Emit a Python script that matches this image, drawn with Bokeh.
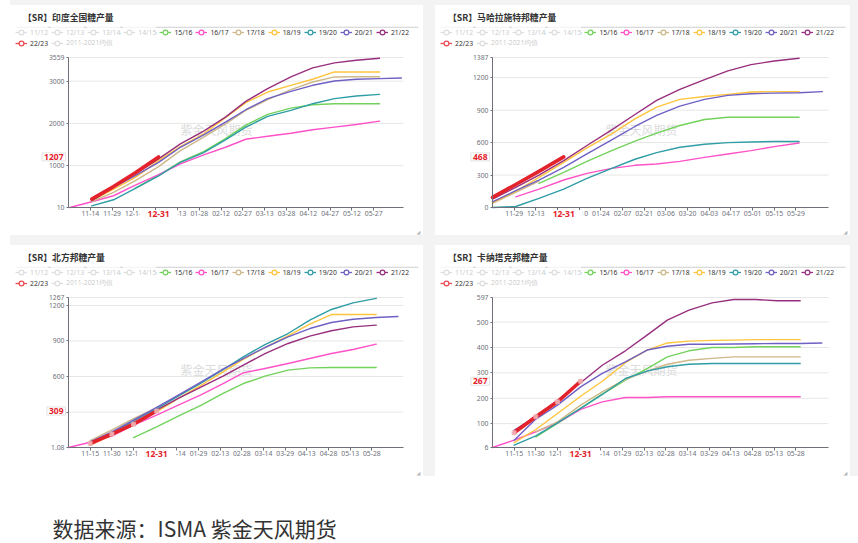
from datetime import date

from bokeh.embed import file_html
from bokeh.layouts import column, row
from bokeh.models import (BoxAnnotation, FixedTicker, Label, Legend,
                          LegendItem, Range1d, Spacer)
from bokeh.plotting import figure
from bokeh.resources import INLINE

# ---------------------------------------------------------------- seasons
SEASONS = ["11/12", "12/13", "13/14", "14/15", "15/16", "16/17", "17/18",
           "18/19", "19/20", "20/21", "21/22", "22/23", "2011-2021均值"]
ACTIVE = ["15/16", "16/17", "17/18", "18/19", "19/20", "20/21", "21/22", "22/23"]
COLORS = {
    "11/12": "#8a8a8a", "12/13": "#8a8a8a", "13/14": "#8a8a8a", "14/15": "#8a8a8a",
    "15/16": "#73d25c", "16/17": "#ff52c8", "17/18": "#cdb88a", "18/19": "#ffc43d",
    "19/20": "#2f9da5", "20/21": "#6f60c4", "21/22": "#982f7d", "22/23": "#e3222b",
    "2011-2021均值": "#8a8a8a",
}
KEY_COLORS = dict(COLORS, **{"22/23": "#ec4b55"})

# ISMA fortnightly report dates (season running Oct -> Jun)
REPORT_DATES = ["10-31", "11-15", "11-30", "12-15", "12-31", "01-15", "01-31",
                "02-15", "02-29", "03-15", "03-31", "04-15", "04-30", "05-15",
                "05-31", "06-15"]

# ---------------------------------------------------------------- India
IN_1516 = ("12-15", [470, 770, 1090, 1330, 1640, 1960, 2212, 2362, 2442, 2466, 2466, 2466])
IN_1617 = ("10-31", [10, 145, 288, 542, 787, 1041, 1255, 1435, 1625, 1697, 1768, 1849, 1911, 1975, 2053])
IN_1718 = ("11-15", [150, 366, 644, 977, 1357, 1673, 1990, 2307, 2561, 2799, 2980, 3099, 3105, 3105])
IN_1819 = ("11-15", [170, 447, 723, 1119, 1452, 1754, 2134, 2490, 2742, 2901, 3044, 3217, 3217, 3217])
IN_1920 = ("11-15", [50, 193, 461, 760, 1080, 1310, 1610, 1910, 2165, 2307, 2466, 2585, 2647, 2687])
IN_2021 = ("11-15", [170, 485, 763, 1079, 1435, 1730, 2029, 2323, 2585, 2759, 2901, 3004, 3044, 3060, 3075])
IN_2122 = ("11-15", [175, 500, 803, 1159, 1516, 1815, 2148, 2521, 2823, 3099, 3312, 3431, 3495, 3540])
IN_2223 = ("11-15", [209, 505, 830, 1207])
IN_XTICKS = ["11-14", "11-29", "12-14", "12-29", "01-13", "01-28", "02-12",
             "02-27", "03-13", "03-28", "04-12", "04-27", "05-12", "05-27"]
IN_YTICKS = [10, 1000, 2000, 3000, 3559]

# ---------------------------------------------------------------- Maharashtra
MH_1516 = ("12-15", [223, 325, 427, 526, 613, 687, 758, 814, 835, 835, 835, 835])
MH_1617 = ("11-30", [99, 170, 254, 316, 362, 390, 402, 427, 464, 495, 526, 563, 597])
MH_1718 = ("11-15", [38, 140, 245])
MH_1819 = ("11-15", [46, 149, 278, 418, 551, 681, 820, 928, 1000, 1027, 1046, 1068, 1071, 1071])
MH_1920 = ("11-15", [0, 9, 84, 170, 269, 362, 446, 507, 557, 585, 600, 606, 610, 610])
MH_2021 = ("11-15", [53, 155, 254, 371, 495, 625, 749, 851, 938, 1000, 1037, 1052, 1058, 1061, 1071])
MH_2122 = ("11-15", [77, 186, 300, 433, 573, 718, 860, 990, 1092, 1182, 1263, 1321, 1355, 1380])
MH_2223 = ("11-15", [93, 213, 334, 468])
MH_XTICKS = ["11-29", "12-13", "12-27", "01-10", "01-24", "02-07", "02-21",
             "03-06", "03-20", "04-03", "04-17", "05-01", "05-15", "05-29"]
MH_YTICKS = [0, 300, 600, 900, 1200, 1387]

# ---------------------------------------------------------------- Uttar Pradesh
UP_1516 = ("12-15", [85, 175, 266, 358, 457, 541, 603, 654, 673, 676, 676, 676])
UP_1617 = ("10-31", [1.08, 45, 98, 190, 274, 358, 448, 541, 631, 668, 710, 752, 794, 828, 873])
UP_1718 = ("11-15", [60, 150, 245, 335])
UP_1819 = ("11-15", [21, 105, 204, 302, 415, 527, 640, 744, 845, 943, 1042, 1123, 1123, 1123])
UP_1920 = ("11-15", [29, 119, 226, 330, 434, 547, 659, 766, 870, 963, 1076, 1166, 1222, 1260])
UP_2021 = ("11-15", [49, 133, 232, 339, 443, 555, 662, 752, 845, 935, 1005, 1056, 1084, 1098, 1107])
UP_2122 = ("11-15", [45, 119, 209, 316, 415, 513, 603, 696, 794, 879, 941, 986, 1019, 1034])
UP_2223 = ("11-15", [35, 114, 198, 309])
UP_XTICKS = ["11-15", "11-30", "12-15", "12-30", "01-14", "01-29", "02-13",
             "02-28", "03-14", "03-29", "04-13", "04-28", "05-13", "05-28"]
UP_YTICKS = [1.08, 300, 600, 900, 1200, 1267]

# ---------------------------------------------------------------- Karnataka
KA_1516 = ("11-30", [48, 101, 160, 216, 271, 317, 363, 387, 400, 400, 403, 403, 403])
KA_1617 = ("10-31", [6, 35, 68, 103, 156, 186, 203, 203, 206, 206, 206, 206, 206, 206, 206])
KA_1718 = ("11-30", [68, 107, 173, 225, 274, 307, 334, 350, 357, 363, 363, 363, 363])
KA_1819 = ("11-15", [25, 77, 140, 208, 267, 340, 390, 418, 425, 428, 429, 431, 431, 431])
KA_1920 = ("11-15", [15, 52, 103, 160, 215, 278, 307, 324, 334, 337, 337, 337, 337, 337])
KA_2021 = ("11-15", [35, 118, 173, 245, 298, 343, 390, 405, 413, 413, 414, 415, 416, 416, 418])
KA_2122 = ("11-15", [74, 129, 192, 261, 330, 387, 449, 508, 547, 576, 589, 589, 584, 584])
KA_2223 = ("11-15", [64, 127, 186, 267])
KA_XTICKS = UP_XTICKS
KA_YTICKS = [6, 100, 200, 300, 400, 500, 597]

TEXT_FONT = "Noto Sans CJK SC"
NUM_FONT = "Noto Sans"
AXIS_GREY = "#6e7079"
PAGE_GREY = "#f3f3f3"
NAN = float("nan")


def day(md):
    """Day number of a 'MM-DD' date within the Oct-Jun crushing season."""
    m, d = map(int, md.split("-"))
    y = 2019 if m >= 9 else 2020
    return (date(y, m, d) - date(2019, 10, 1)).days


def fmt(v):
    return f"{v:g}"


def make_panel(title, w, h, margins, x0, span, xticks, yticks, series,
               current, cur_date="12-31", red_markers=False):
    """One card: the frame fills the card, the axes sit at fixed data
    locations so that header, legend and value tags can share the canvas."""
    ml, mr, mt, mb = margins
    fw, fh = w - ml - mr, h - mt - mb
    d0, d1 = day(x0), day(x0) + span
    y0, y1 = yticks[0], yticks[-1]
    kx, ky = span / fw, (y1 - y0) / fh
    p = figure(width=w, height=h,
               x_range=Range1d(d0 - ml * kx, d1 + mr * kx),
               y_range=Range1d(y0 - mb * ky, y1 + mt * ky),
               output_backend="svg", toolbar_location=None, min_border=0,
               outline_line_color=None, background_fill_color="white",
               border_fill_color="white")

    def sy(cy):  # card pixel row -> screen y measured from the bottom
        return h - cy

    # axes pinned to the plotting area
    xa, ya = p.xaxis[0], p.yaxis[0]
    xa.fixed_location = y0
    ya.fixed_location = d0
    xa.bounds = (d0, d1)
    ya.bounds = (y0, y1)
    xa.ticker = FixedTicker(ticks=[day(d) for d in xticks])
    xa.major_label_overrides = {day(d): d for d in xticks}
    ya.ticker = FixedTicker(ticks=yticks)
    ya.major_label_overrides = {t: fmt(t) for t in yticks}
    for ax in (xa, ya):
        ax.axis_line_color = AXIS_GREY
        ax.major_tick_line_color = AXIS_GREY
        ax.minor_tick_line_color = None
        ax.major_tick_in = 0
        ax.major_label_text_color = AXIS_GREY
        ax.major_label_text_font = NUM_FONT
        ax.major_label_text_font_size = "6.8px"
    xa.major_tick_out = 3
    xa.major_label_standoff = 0
    ya.major_tick_out = 2
    ya.major_label_standoff = 2
    p.grid.visible = False

    # horizontal guide lines across the plotting area
    gy = [t for t in yticks[1:]]
    p.segment(x0=[d0] * len(gy), x1=[d1] * len(gy), y0=gy, y1=gy,
              line_color="#e6e6e6", line_width=1, level="underlay")

    # watermark
    p.add_layout(Label(x=206, y=sy(124), x_units="screen", y_units="screen",
                       text="紫金天风期货", text_align="center",
                       text_baseline="middle", text_font=TEXT_FONT,
                       text_font_size="12px", text_color="#dcdcdc",
                       level="underlay"))

    # season lines
    for name in ACTIVE:
        if name not in series:
            continue
        start, vals = series[name]
        i = REPORT_DATES.index(start)
        xs = [day(d) for d in REPORT_DATES[i:i + len(vals)]]
        lw = 3.6 if name == "22/23" else 1.4
        p.line(xs, vals, line_color=COLORS[name], line_width=lw,
               line_join="round", line_cap="round")
        if red_markers and name == "22/23":
            p.scatter(xs, vals, size=4, marker="square", fill_color="white",
                      fill_alpha=0.6, line_color="#e8a3aa", line_width=0.8)

    # legend keys: a thin line with a hollow ring per season (no plotted points)
    keys = {}
    for name in SEASONS:
        col = KEY_COLORS[name]
        ln = p.line([NAN], [NAN], line_color=col, line_width=1.3)
        dot = p.scatter([NAN], [NAN], marker="circle", size=5, fill_color="white",
                        line_color=col, line_width=1.2)
        if name not in ACTIVE:
            ln.visible = False
            dot.visible = False
        keys[name] = [ln, dot]

    # title and its rule
    p.add_layout(Label(x=12.5, y=sy(12.3), x_units="screen", y_units="screen",
                       text=title, text_align="left", text_baseline="middle",
                       text_font=TEXT_FONT, text_font_style="bold",
                       text_font_size="8.8px", text_color="#333333"))
    p.add_layout(BoxAnnotation(left=5, right=w - 5, top=sy(21.2),
                               bottom=sy(22.2), left_units="screen",
                               right_units="screen", top_units="screen",
                               bottom_units="screen", fill_color="#cfcfcf",
                               fill_alpha=1, line_alpha=0))

    # legend in two rows
    for names, cy in ((SEASONS[:11], 27.3), (SEASONS[11:], 38.3)):
        lg = Legend(items=[LegendItem(label=n, renderers=keys[n]) for n in names],
                    location=(5, sy(cy + 6)), orientation="horizontal",
                    click_policy="hide", padding=0, margin=0, spacing=3,
                    glyph_width=12, glyph_height=12, label_standoff=3,
                    label_width=5, label_height=10,
                    label_text_font=NUM_FONT, label_text_font_size="6.8px",
                    label_text_color="#333333", background_fill_alpha=0,
                    border_line_alpha=0, inactive_fill_color="white",
                    inactive_fill_alpha=0.72)
        p.add_layout(lg)

    # latest-value tags on the axes
    p.add_layout(Label(x=ml - 3, y=current, x_units="screen", y_units="data",
                       text=fmt(current), text_align="right",
                       text_baseline="middle", text_font=NUM_FONT,
                       text_font_style="bold", text_font_size="8.5px",
                       text_color="#e3222b", background_fill_color="white",
                       border_line_color="#e2e2e2", padding=(2, 1)))
    p.add_layout(Label(x=day(cur_date), y=mb - 6.5, x_units="data", y_units="screen",
                       text=cur_date, text_align="center",
                       text_baseline="middle", text_font=NUM_FONT,
                       text_font_style="bold", text_font_size="8.5px",
                       text_color="#e3222b", background_fill_color="white",
                       padding=(8, 1)))

    # resize grip in the card corner
    p.add_layout(Label(x=w - 5, y=sy(h - 4), x_units="screen", y_units="screen",
                       text="◢", text_align="center", text_baseline="middle",
                       text_font="DejaVu Sans", text_font_size="5px",
                       text_color="#b5b5b5"))
    return p


def pack(*pairs):
    return {name: data for name, data in pairs}


p1 = make_panel("【SR】印度全国糖产量", 413, 230, (58, 20, 52, 28), "10-30", 230.5,
                IN_XTICKS, IN_YTICKS,
                pack(("15/16", IN_1516), ("16/17", IN_1617), ("17/18", IN_1718),
                     ("18/19", IN_1819), ("19/20", IN_1920), ("20/21", IN_2021),
                     ("21/22", IN_2122), ("22/23", IN_2223)), 1207)
p2 = make_panel("【SR】马哈拉施特邦糖产量", 415, 230, (57, 22, 52, 28), "11-15", 217,
                MH_XTICKS, MH_YTICKS,
                pack(("15/16", MH_1516), ("16/17", MH_1617), ("17/18", MH_1718),
                     ("18/19", MH_1819), ("19/20", MH_1920), ("20/21", MH_2021),
                     ("21/22", MH_2122), ("22/23", MH_2223)), 468)
p3 = make_panel("【SR】北方邦糖产量", 413, 231, (58, 20, 52, 29), "10-31", 231.9,
                UP_XTICKS, UP_YTICKS,
                pack(("15/16", UP_1516), ("16/17", UP_1617), ("17/18", UP_1718),
                     ("18/19", UP_1819), ("19/20", UP_1920), ("20/21", UP_2021),
                     ("21/22", UP_2122), ("22/23", UP_2223)), 309, red_markers=True)
p4 = make_panel("【SR】卡纳塔克邦糖产量", 415, 231, (57, 22, 52, 29), "10-31", 232.6,
                KA_XTICKS, KA_YTICKS,
                pack(("15/16", KA_1516), ("16/17", KA_1617), ("17/18", KA_1718),
                     ("18/19", KA_1819), ("19/20", KA_1920), ("20/21", KA_2021),
                     ("21/22", KA_2122), ("22/23", KA_2223)), 267, red_markers=True)

# source note under the cards
foot = figure(width=858, height=67, x_range=Range1d(0, 1), y_range=Range1d(0, 1),
              x_axis_type=None, y_axis_type=None, output_backend="svg",
              toolbar_location=None, min_border=0, outline_line_color=None,
              background_fill_color="white", border_fill_color="white")
foot.grid.visible = False
foot.add_layout(Label(x=52, y=16, x_units="screen", y_units="screen",
                      text="数据来源：ISMA 紫金天风期货", text_align="left",
                      text_baseline="middle", text_font=TEXT_FONT,
                      text_font_size="21px", text_color="#333333"))


def grey(w, h):
    return Spacer(width=w, height=h, styles={"background-color": PAGE_GREY})


cards = column(
    grey(848, 5),
    row(p1, grey(12, 230), p2, grey(8, 230)),
    grey(848, 10),
    row(p3, grey(12, 231), p4, grey(8, 231)),
)
page = column(row(Spacer(width=10, height=476), cards), foot)

open("out.html", "w").write(file_html(page, INLINE))
